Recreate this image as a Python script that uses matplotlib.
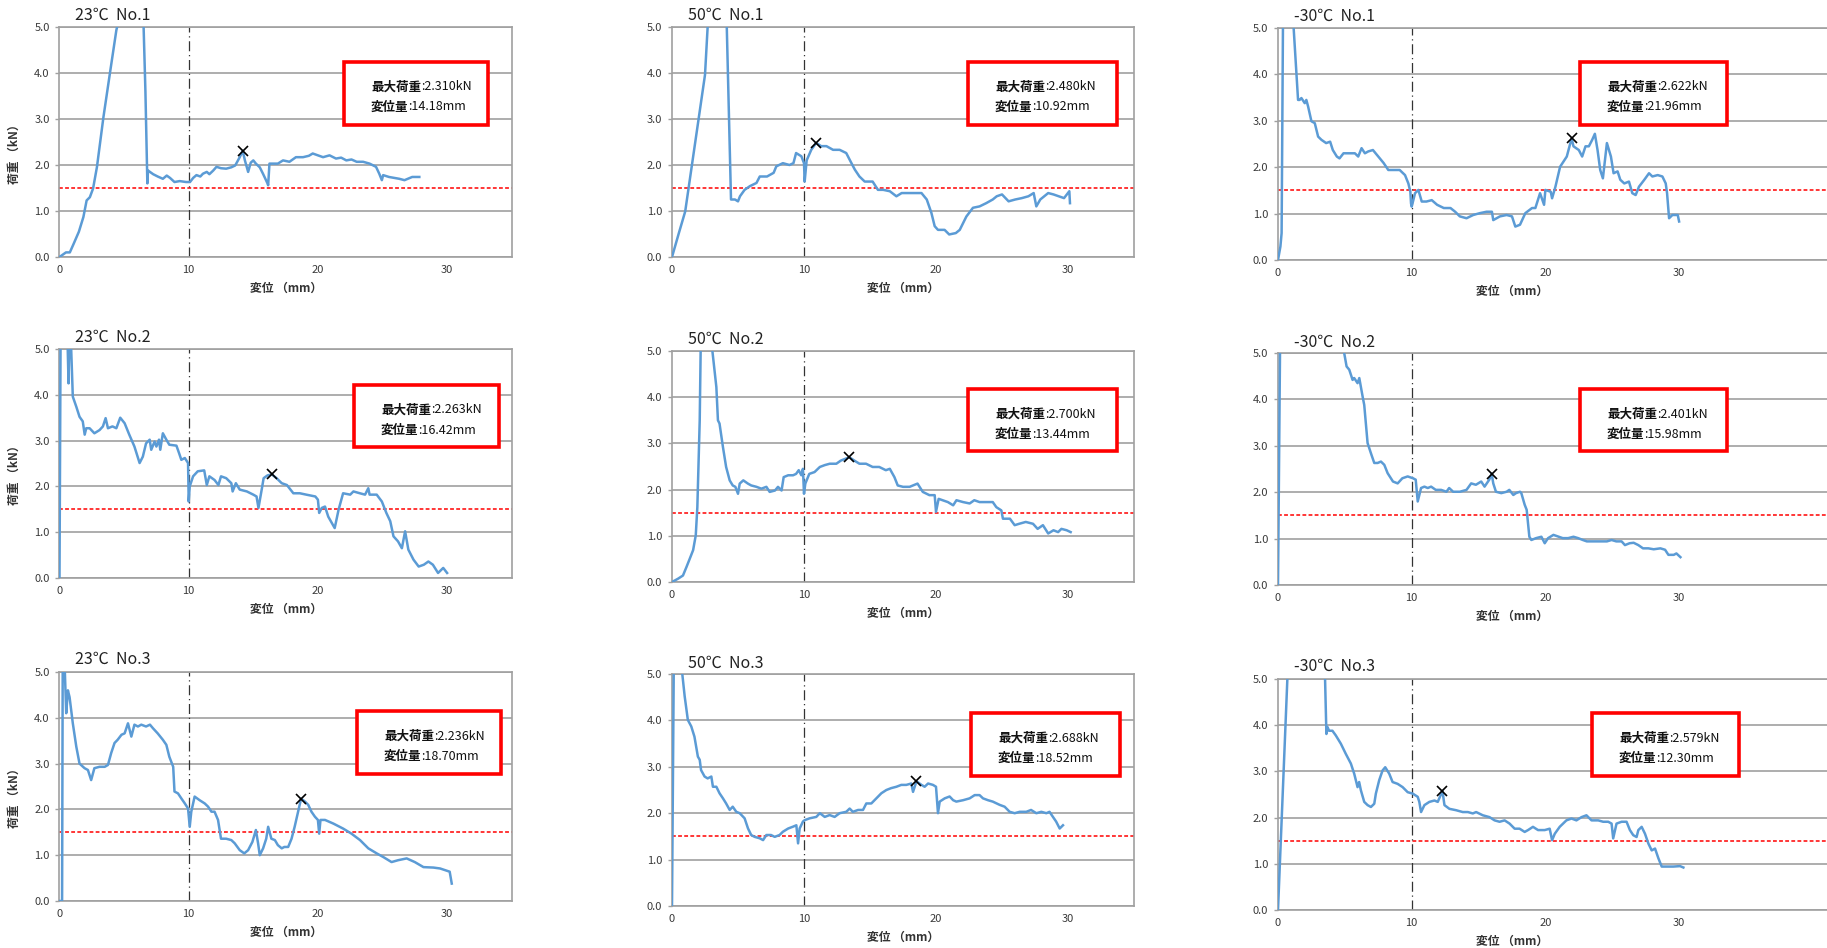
import numpy as np
import matplotlib
matplotlib.use("Agg")
import matplotlib.pyplot as plt
from matplotlib.patches import Rectangle
from matplotlib.text import Annotation
from matplotlib.ticker import FormatStrFormatter

plt.rcParams["font.family"] = ["Noto Sans CJK JP", "DejaVu Sans"]

# Load-displacement records (displacement mm, load kN), one list per specimen
curve_23_1 = [(0, 0), (0.3, 0.06), (0.5, 0.1), (0.8, 0.1), (1.1, 0.29), (1.5, 0.55), (1.85, 0.87), (2.1, 1.23),
              (2.35, 1.3), (2.6, 1.49), (2.9, 1.96), (3.15, 2.5), (3.4, 3.04), (3.9, 3.99), (4.4, 4.93), (4.5, 5.05),
              (5.5, 6.6), (6.5, 5.1), (6.65, 3.6), (6.8, 1.6), (6.85, 1.88), (7.25, 1.8), (7.6, 1.75), (8.0, 1.7),
              (8.3, 1.77), (8.55, 1.72), (8.9, 1.63), (9.3, 1.65), (9.8, 1.63), (10.1, 1.63), (10.35, 1.72),
              (10.6, 1.78), (10.9, 1.75), (11.1, 1.81), (11.4, 1.85), (11.6, 1.8), (11.9, 1.88), (12.15, 1.96),
              (12.5, 1.93), (12.9, 1.92), (13.3, 1.95), (13.6, 1.99), (13.95, 2.17), (14.18, 2.31), (14.35, 2.1),
              (14.6, 1.85), (14.8, 2.05), (15.0, 2.1), (15.2, 2.03), (15.5, 1.95), (15.75, 1.81), (16.1, 1.6),
              (16.15, 1.56), (16.25, 2.03), (16.5, 2.03), (16.9, 2.03), (17.3, 2.1), (17.8, 2.07), (18.3, 2.17),
              (18.85, 2.17), (19.3, 2.2), (19.6, 2.25), (20.0, 2.21), (20.4, 2.17), (20.9, 2.21), (21.4, 2.14),
              (21.8, 2.16), (22.2, 2.1), (22.6, 2.12), (23.0, 2.07), (23.5, 2.07), (24.0, 2.03), (24.5, 1.96),
              (24.75, 1.81), (24.95, 1.67), (25.05, 1.78), (25.5, 1.74), (26.3, 1.7), (26.7, 1.67), (27.3, 1.74),
              (27.85, 1.74)]

curve_50_1 = [(0, 0), (0.5, 0.5), (1.0, 0.99), (1.5, 1.98), (2.0, 2.97), (2.5, 3.96), (2.7, 5.0), (3.4, 7.0),
              (4.15, 5.0), (4.47, 1.25), (4.77, 1.25), (5.0, 1.21), (5.15, 1.32), (5.5, 1.46), (5.9, 1.54),
              (6.4, 1.61), (6.65, 1.75), (7.2, 1.75), (7.7, 1.83), (7.9, 1.97), (8.4, 2.04), (8.9, 2.0), (9.2, 2.04),
              (9.4, 2.26), (9.8, 2.19), (10.0, 2.04), (10.05, 1.64), (10.2, 2.1), (10.55, 2.33), (10.92, 2.48),
              (11.3, 2.41), (11.7, 2.41), (12.2, 2.33), (12.7, 2.33), (13.2, 2.26), (13.45, 2.12), (13.85, 1.9),
              (14.2, 1.75), (14.6, 1.64), (15.2, 1.64), (15.6, 1.46), (16.0, 1.46), (16.5, 1.43), (17.0, 1.32),
              (17.4, 1.39), (17.9, 1.39), (18.5, 1.39), (18.9, 1.39), (19.3, 1.25), (19.65, 0.96), (19.9, 0.67),
              (20.15, 0.59), (20.65, 0.59), (21.0, 0.49), (21.5, 0.52), (21.8, 0.59), (22.3, 0.88), (22.8, 1.07),
              (23.3, 1.1), (23.8, 1.17), (24.3, 1.25), (24.6, 1.32), (25.0, 1.36), (25.5, 1.21), (26.0, 1.25),
              (26.5, 1.28), (27.0, 1.32), (27.4, 1.39), (27.6, 1.1), (27.9, 1.25), (28.5, 1.39), (28.9, 1.36),
              (29.3, 1.32), (29.7, 1.28), (30.1, 1.43), (30.15, 1.17)]

curve_m30_1 = [(0, 0), (0.18, 0.29), (0.27, 0.58), (0.37, 5.0), (0.8, 8.0), (1.17, 5.0), (1.5, 3.45), (1.62, 3.45),
               (1.75, 3.49), (2.0, 3.38), (2.12, 3.45), (2.25, 3.31), (2.5, 2.99), (2.75, 2.95), (3.0, 2.66),
               (3.25, 2.59), (3.6, 2.52), (3.9, 2.55), (4.1, 2.37), (4.4, 2.23), (4.6, 2.19), (4.9, 2.3), (5.4, 2.3),
               (5.75, 2.3), (6.0, 2.23), (6.25, 2.41), (6.5, 2.3), (6.75, 2.34), (7.1, 2.37), (7.5, 2.23),
               (7.9, 2.09), (8.25, 1.94), (8.6, 1.94), (9.1, 1.94), (9.5, 1.83), (9.75, 1.65), (9.9, 1.47),
               (9.95, 1.22), (10.0, 1.15), (10.25, 1.44), (10.5, 1.51), (10.75, 1.26), (11.1, 1.26), (11.5, 1.29),
               (11.9, 1.19), (12.4, 1.12), (12.9, 1.12), (13.25, 1.04), (13.6, 0.94), (14.1, 0.9), (14.6, 0.97),
               (15.1, 1.01), (15.6, 1.04), (16.0, 1.04), (16.1, 0.86), (16.6, 0.94), (17.1, 0.97), (17.5, 0.94),
               (17.75, 0.72), (18.1, 0.76), (18.5, 1.01), (19.0, 1.12), (19.25, 1.12), (19.6, 1.44), (19.9, 1.19),
               (20.0, 1.51), (20.4, 1.47), (20.5, 1.33), (20.75, 1.58), (21.1, 2.01), (21.6, 2.23), (21.96, 2.622),
               (22.1, 2.45), (22.5, 2.37), (22.75, 2.23), (23.0, 2.45), (23.25, 2.45), (23.5, 2.59), (23.7, 2.72),
               (23.9, 2.37), (24.1, 1.94), (24.3, 1.76), (24.6, 2.52), (24.9, 2.23), (25.1, 1.87), (25.4, 1.91),
               (25.6, 1.73), (25.9, 1.65), (26.25, 1.69), (26.5, 1.44), (26.75, 1.4), (27.0, 1.58), (27.4, 1.73),
               (27.75, 1.87), (28.0, 1.8), (28.4, 1.83), (28.75, 1.8), (29.0, 1.65), (29.1, 1.44), (29.25, 0.9),
               (29.5, 0.97), (29.9, 0.97), (30.0, 0.83)]

curve_23_2 = [(0, 0), (0.08, 5.0), (0.35, 6.5), (0.62, 5.2), (0.7, 4.25), (0.76, 5.2), (0.88, 5.2), (1.03, 3.96),
              (1.3, 3.74), (1.55, 3.52), (1.8, 3.42), (1.95, 3.13), (2.07, 3.27), (2.33, 3.27), (2.7, 3.16),
              (3.1, 3.23), (3.36, 3.31), (3.57, 3.49), (3.75, 3.27), (4.1, 3.31), (4.4, 3.27), (4.7, 3.5),
              (5.04, 3.38), (5.4, 3.13), (5.8, 2.87), (6.2, 2.51), (6.45, 2.65), (6.7, 2.94), (6.98, 3.02),
              (7.1, 2.8), (7.36, 2.98), (7.5, 2.87), (7.7, 3.02), (7.8, 2.8), (8.0, 3.16), (8.27, 3.02), (8.5, 2.91),
              (9.05, 2.89), (9.25, 2.73), (9.43, 2.58), (9.7, 2.62), (9.95, 2.51), (10.0, 1.67), (10.08, 2.0),
              (10.34, 2.22), (10.7, 2.33), (11.2, 2.35), (11.4, 2.03), (11.6, 2.22), (12.0, 2.14), (12.3, 2.03),
              (12.5, 2.22), (12.9, 2.18), (13.3, 2.07), (13.4, 1.89), (13.65, 2.07), (13.95, 1.93), (14.5, 1.89),
              (15.0, 1.82), (15.25, 1.78), (15.4, 1.53), (15.65, 1.93), (15.8, 2.18), (16.1, 2.24), (16.42, 2.263),
              (16.8, 2.18), (17.2, 2.07), (17.6, 2.03), (18.1, 1.85), (18.6, 1.85), (19.1, 1.82), (19.8, 1.78),
              (20.0, 1.71), (20.1, 1.42), (20.3, 1.53), (20.55, 1.56), (20.8, 1.34), (21.3, 1.09), (21.6, 1.49),
              (21.95, 1.85), (22.5, 1.82), (22.75, 1.89), (23.25, 1.85), (23.65, 1.82), (23.9, 1.96), (24.0, 1.82),
              (24.55, 1.82), (24.95, 1.67), (25.3, 1.42), (25.6, 1.24), (25.85, 0.91), (26.2, 0.8), (26.5, 0.65),
              (26.75, 1.02), (27.0, 0.62), (27.4, 0.4), (27.8, 0.25), (28.2, 0.29), (28.55, 0.36), (28.9, 0.29),
              (29.3, 0.11), (29.7, 0.22), (30.0, 0.11)]

curve_50_2 = [(0, 0), (0.45, 0.07), (0.83, 0.14), (1.09, 0.32), (1.34, 0.5), (1.6, 0.69), (1.8, 1.01), (1.92, 1.62),
              (2.1, 3.5), (2.17, 5.0), (2.6, 7.0), (3.06, 5.0), (3.36, 4.22), (3.48, 3.5), (3.6, 3.43), (3.86, 2.92),
              (4.1, 2.49), (4.37, 2.2), (4.6, 2.09), (4.8, 2.06), (5.0, 1.91), (5.13, 2.13), (5.4, 2.2), (5.75, 2.13),
              (6.0, 2.09), (6.4, 2.06), (6.77, 2.02), (7.15, 2.06), (7.4, 1.95), (7.8, 1.98), (8.03, 2.06),
              (8.3, 1.98), (8.46, 2.27), (8.8, 2.31), (9.17, 2.31), (9.4, 2.34), (9.6, 2.42), (9.8, 2.31),
              (9.92, 2.45), (10.0, 1.91), (10.1, 2.13), (10.4, 2.34), (10.8, 2.38), (11.2, 2.49), (11.57, 2.53),
              (11.95, 2.56), (12.45, 2.56), (12.8, 2.63), (13.44, 2.7), (13.8, 2.63), (14.2, 2.56), (14.7, 2.56),
              (15.2, 2.49), (15.7, 2.49), (16.2, 2.42), (16.5, 2.45), (16.85, 2.27), (17.1, 2.09), (17.5, 2.06),
              (18.0, 2.06), (18.6, 2.13), (19.0, 1.95), (19.5, 1.88), (19.9, 1.88), (20.0, 1.52), (20.2, 1.8),
              (20.5, 1.77), (20.9, 1.73), (21.3, 1.66), (21.55, 1.77), (22.05, 1.73), (22.55, 1.7), (22.9, 1.77),
              (23.3, 1.73), (23.8, 1.73), (24.3, 1.73), (24.57, 1.62), (24.95, 1.55), (25.07, 1.37), (25.6, 1.37),
              (25.96, 1.23), (26.3, 1.26), (26.8, 1.3), (27.35, 1.26), (27.7, 1.15), (28.1, 1.23), (28.5, 1.05),
              (28.9, 1.12), (29.25, 1.08), (29.5, 1.15), (29.9, 1.12), (30.2, 1.08)]

curve_m30_2 = [(0, 0), (0.15, 5.0), (0.4, 8.0), (4.0, 6.2), (4.95, 5.0), (5.13, 4.71), (5.33, 4.64), (5.58, 4.42),
               (5.7, 4.46), (5.95, 4.35), (6.08, 4.46), (6.33, 4.06), (6.45, 3.88), (6.7, 3.06), (6.95, 2.84),
               (7.2, 2.63), (7.45, 2.63), (7.7, 2.66), (7.95, 2.59), (8.2, 2.41), (8.6, 2.23), (8.95, 2.19),
               (9.3, 2.3), (9.7, 2.34), (10.1, 2.3), (10.3, 2.27), (10.45, 1.8), (10.7, 2.09), (10.95, 2.12),
               (11.2, 2.09), (11.45, 2.12), (11.8, 2.05), (12.2, 2.05), (12.6, 2.01), (12.8, 2.09), (13.1, 2.01),
               (13.6, 2.01), (14.1, 2.05), (14.45, 2.19), (14.8, 2.16), (15.2, 2.23), (15.45, 2.12), (15.8, 2.27),
               (15.98, 2.401), (16.1, 2.19), (16.3, 2.01), (16.7, 1.98), (17.1, 2.01), (17.3, 2.05), (17.6, 1.94),
               (17.8, 1.98), (18.1, 2.01), (18.2, 1.98), (18.45, 1.73), (18.6, 1.62), (18.8, 1.04), (18.95, 0.97),
               (19.3, 1.01), (19.7, 1.04), (19.95, 0.9), (20.2, 1.01), (20.6, 1.08), (21.0, 1.04), (21.3, 1.01),
               (21.7, 1.01), (22.1, 1.04), (22.45, 1.01), (22.8, 0.97), (23.1, 0.94), (23.6, 0.94), (24.1, 0.94),
               (24.6, 0.94), (24.95, 0.97), (25.3, 0.94), (25.7, 0.94), (25.95, 0.86), (26.3, 0.9), (26.6, 0.91),
               (26.95, 0.86), (27.3, 0.79), (27.7, 0.79), (28.1, 0.77), (28.6, 0.79), (28.95, 0.76), (29.2, 0.65),
               (29.6, 0.65), (29.8, 0.68), (30.1, 0.6)]

curve_23_3 = [(0, 0), (0.2, 0), (0.25, 5.3), (0.38, 5.3), (0.52, 4.1), (0.65, 4.6), (0.78, 4.45), (1.03, 3.88),
              (1.3, 3.37), (1.55, 3.0), (1.94, 2.9), (2.2, 2.86), (2.45, 2.64), (2.7, 2.9), (3.1, 2.93), (3.5, 2.93),
              (3.75, 2.97), (4.0, 3.23), (4.26, 3.45), (4.5, 3.52), (4.8, 3.63), (5.04, 3.66), (5.3, 3.88),
              (5.56, 3.59), (5.8, 3.85), (6.07, 3.81), (6.33, 3.85), (6.7, 3.81), (7.0, 3.85), (7.24, 3.77),
              (7.6, 3.66), (8.0, 3.52), (8.27, 3.41), (8.5, 3.15), (8.8, 2.93), (8.9, 2.39), (9.17, 2.35),
              (9.43, 2.24), (9.7, 2.13), (9.95, 2.02), (10.08, 1.62), (10.2, 1.95), (10.46, 2.28), (10.85, 2.2),
              (11.24, 2.13), (11.5, 2.06), (11.76, 1.95), (12.0, 1.95), (12.27, 1.77), (12.5, 1.36), (12.9, 1.36),
              (13.3, 1.33), (13.56, 1.26), (13.95, 1.11), (14.3, 1.04), (14.6, 1.11), (14.93, 1.29), (15.2, 1.55),
              (15.37, 1.26), (15.5, 1.0), (15.76, 1.15), (16.0, 1.36), (16.15, 1.62), (16.4, 1.36), (16.67, 1.33),
              (16.9, 1.22), (17.2, 1.15), (17.4, 1.18), (17.7, 1.18), (17.96, 1.36), (18.2, 1.62), (18.5, 1.99),
              (18.7, 2.236), (19.0, 2.17), (19.25, 2.1), (19.5, 1.95), (19.77, 1.84), (20.0, 1.77), (20.1, 1.47),
              (20.2, 1.77), (20.55, 1.77), (21.2, 1.69), (21.96, 1.58), (22.6, 1.47), (23.26, 1.33), (23.9, 1.15),
              (24.55, 1.04), (25.06, 0.96), (25.7, 0.85), (26.2, 0.89), (26.87, 0.93), (27.5, 0.85), (28.17, 0.74),
              (28.94, 0.73), (29.46, 0.71), (30.2, 0.64), (30.36, 0.38)]

curve_50_3 = [(0, 0), (0.13, 5.0), (0.45, 6.5), (0.78, 5.0), (0.96, 4.52), (1.2, 4.01), (1.46, 3.87), (1.7, 3.65),
              (1.96, 3.22), (2.1, 3.15), (2.2, 2.93), (2.47, 2.79), (2.7, 2.75), (2.98, 2.79), (3.1, 2.57),
              (3.36, 2.57), (3.6, 2.43), (3.86, 2.32), (4.1, 2.21), (4.37, 2.07), (4.6, 2.14), (4.87, 2.03),
              (5.13, 2.0), (5.5, 1.89), (5.76, 1.67), (6.0, 1.53), (6.26, 1.49), (6.64, 1.46), (6.9, 1.42),
              (7.15, 1.53), (7.5, 1.53), (7.78, 1.49), (8.15, 1.53), (8.4, 1.6), (8.8, 1.67), (9.17, 1.71),
              (9.42, 1.74), (9.55, 1.35), (9.67, 1.67), (9.92, 1.82), (10.05, 1.85), (10.43, 1.89), (10.93, 1.92),
              (11.2, 2.0), (11.57, 1.92), (11.94, 1.96), (12.32, 1.92), (12.7, 2.0), (13.2, 2.03), (13.46, 2.1),
              (13.7, 2.03), (14.1, 2.07), (14.47, 2.07), (14.72, 2.21), (15.1, 2.21), (15.48, 2.32), (15.86, 2.43),
              (16.24, 2.5), (16.6, 2.54), (17.0, 2.57), (17.37, 2.61), (17.75, 2.61), (18.13, 2.64), (18.26, 2.46),
              (18.52, 2.688), (18.9, 2.61), (19.14, 2.57), (19.4, 2.64), (19.77, 2.61), (20.0, 2.57), (20.15, 2.0),
              (20.28, 2.25), (20.66, 2.32), (21.03, 2.36), (21.3, 2.28), (21.54, 2.25), (22.05, 2.28), (22.55, 2.32),
              (22.93, 2.39), (23.3, 2.39), (23.56, 2.32), (23.94, 2.28), (24.3, 2.25), (24.82, 2.18), (25.2, 2.14),
              (25.58, 2.03), (25.96, 2.0), (26.34, 2.03), (26.84, 2.03), (27.2, 2.07), (27.6, 2.0), (27.98, 2.03),
              (28.36, 2.0), (28.6, 2.03), (28.86, 1.92), (29.1, 1.82), (29.37, 1.67), (29.62, 1.74)]

curve_m30_3 = [(0, 0), (0.7, 5.0), (1.2, 6.5), (3.4, 6.0), (3.52, 5.0), (3.62, 3.81), (3.7, 3.96), (3.82, 3.88),
               (4.07, 3.88), (4.32, 3.78), (4.7, 3.6), (5.07, 3.38), (5.45, 3.17), (5.7, 2.95), (5.95, 2.66),
               (6.07, 2.77), (6.2, 2.59), (6.45, 2.34), (6.7, 2.27), (6.95, 2.23), (7.2, 2.3), (7.32, 2.52),
               (7.57, 2.81), (7.82, 3.02), (8.02, 3.09), (8.32, 2.95), (8.57, 2.77), (8.95, 2.73), (9.32, 2.66),
               (9.7, 2.55), (10.07, 2.52), (10.45, 2.45), (10.57, 2.34), (10.7, 2.12), (10.95, 2.27), (11.32, 2.34),
               (11.7, 2.37), (11.95, 2.34), (12.3, 2.579), (12.45, 2.27), (12.82, 2.19), (13.32, 2.16), (13.82, 2.12),
               (14.2, 2.12), (14.57, 2.09), (14.82, 2.12), (15.32, 2.05), (15.82, 2.01), (16.2, 1.94), (16.57, 1.91),
               (16.95, 1.94), (17.32, 1.87), (17.7, 1.76), (18.07, 1.76), (18.45, 1.69), (18.7, 1.73), (19.07, 1.8),
               (19.45, 1.73), (19.95, 1.73), (20.32, 1.76), (20.5, 1.51), (20.7, 1.65), (21.07, 1.8), (21.57, 1.94),
               (21.95, 1.98), (22.32, 1.94), (22.7, 2.01), (23.07, 2.05), (23.45, 1.94), (23.95, 1.94), (24.32, 1.91),
               (24.7, 1.91), (24.95, 1.87), (25.07, 1.55), (25.32, 1.87), (25.7, 1.91), (26.07, 1.91), (26.32, 1.73),
               (26.57, 1.62), (26.82, 1.58), (26.95, 1.73), (27.2, 1.8), (27.45, 1.65), (27.7, 1.44), (27.95, 1.29),
               (28.2, 1.33), (28.45, 1.12), (28.7, 0.94), (29.07, 0.94), (29.57, 0.94), (30.07, 0.95), (30.32, 0.92)]

curves = [curve_23_1, curve_50_1, curve_m30_1,
          curve_23_2, curve_50_2, curve_m30_2,
          curve_23_3, curve_50_3, curve_m30_3]
titles = ["23℃  No.1", "50℃  No.1", "-30℃  No.1",
          "23℃  No.2", "50℃  No.2", "-30℃  No.2",
          "23℃  No.3", "50℃  No.3", "-30℃  No.3"]
peak_load = [2.310, 2.480, 2.622, 2.263, 2.700, 2.401, 2.236, 2.688, 2.579]
peak_disp = [14.18, 10.92, 21.96, 16.42, 13.44, 15.98, 18.70, 18.52, 12.30]
limit_load = 1.5
ref_disp = 10
x_ticks = [0, 10, 20, 30]
y_ticks = [0.0, 1.0, 2.0, 3.0, 4.0, 5.0]

# page layout in pixels
W, H = 1827, 948
col_left = [59.5, 672, 1278]
col_scale = [12.92, 13.2, 13.37]     # px per mm
col_xmax = [35, 35, 41.5]
axes_top = [27, 27, 28, 349, 351, 353, 672, 674, 679]
axes_bottom = [257, 257, 260, 578, 582, 585, 901, 906, 910]
title_pos = [(75, 15), (688, 15), (1294, 16), (75, 337), (688, 339), (1294, 342),
             (75, 659), (688, 663), (1294, 666)]
box_pos = [(344, 62, 488, 125), (968, 62, 1117, 125), (1580, 62, 1727, 125),
           (354, 385, 499, 447), (968, 389, 1117, 451), (1580, 389, 1727, 451),
           (357, 711, 501, 774), (971, 713, 1120, 776), (1592, 713, 1739, 776)]

BLUE = "#5b9bd5"
GRID = "#a0a0a0"

fig = plt.figure(figsize=(W / 100, H / 100), dpi=100)


def fx(px):
    return px / W


def fy(py):
    return 1 - py / H


for i in range(9):
    r, c = divmod(i, 3)
    left = col_left[c]
    right = left + col_scale[c] * col_xmax[c]
    top, bottom = axes_top[i], axes_bottom[i]
    ax = fig.add_axes([fx(left), fy(bottom), (right - left) / W, (bottom - top) / H])
    ax.set_xlim(0, col_xmax[c])
    ax.set_ylim(0, 5)

    for s in ax.spines.values():
        s.set_color(GRID)
        s.set_linewidth(1.2)
    ax.set_xticks(x_ticks)
    ax.set_yticks(y_ticks)
    ax.yaxis.set_major_formatter(FormatStrFormatter("%.1f"))
    ax.tick_params(axis="y", length=3, width=1, color=GRID, pad=4, labelsize=8, labelcolor="#3a3a3a")
    ax.tick_params(axis="x", length=0, pad=6, labelsize=8, labelcolor="#3a3a3a")
    ax.yaxis.grid(True, color=GRID, lw=1.2)
    ax.set_axisbelow(True)

    d, p = np.array(curves[i]).T
    ax.plot(d, p, color=BLUE, lw=1.8, zorder=3)
    ax.axhline(limit_load, color="#ff0000", lw=1.1, ls=(0, (2.5, 1.5)), zorder=2)
    ax.axvline(ref_disp, color="#333333", lw=0.9, ls=(0, (8, 3, 1, 3)), zorder=2)
    ax.plot(peak_disp[i], peak_load[i], marker="x", color="black", ms=7, mew=1.2, zorder=4)

    h = bottom - top
    ax.set_xlabel("変位 （mm）", fontsize=8.5, fontweight="bold", color="#333333")
    ax.xaxis.set_label_coords(17.5 / col_xmax[c], -25 / h)
    if c == 0:
        ax.set_ylabel("荷重 （kN）", fontsize=8.5, fontweight="bold", color="#333333")
        ax.yaxis.set_label_coords((21 - left) / (right - left), 0.46)

    tx, ty = title_pos[i]
    fig.text(fx(tx), fy(ty), titles[i], fontsize=11.5, va="center", ha="left", color="#222222")

    # red callout with the peak load and its displacement
    bl, bt, br, bb = box_pos[i]
    fig.add_artist(Rectangle((fx(bl), fy(bb)), (br - bl) / W, (bb - bt) / H, transform=fig.transFigure,
                             facecolor="white", edgecolor="#ff0000", lw=2.6, zorder=5))
    lines = [("最大荷重", f":{peak_load[i]:.3f}kN"), ("変位量", f":{peak_disp[i]:.2f}mm")]
    for k, (name, val) in enumerate(lines):
        t = fig.text(fx(bl + 27), fy(bt + 25 + 20 * k), name, fontsize=9, fontweight="bold",
                     va="center", ha="left", color="#111111", zorder=6)
        fig.add_artist(Annotation(val, xy=(1, 0.5), xycoords=t, va="center", ha="left",
                                  fontsize=9, color="#111111", zorder=6))

fig.savefig("out.png", dpi=100)
